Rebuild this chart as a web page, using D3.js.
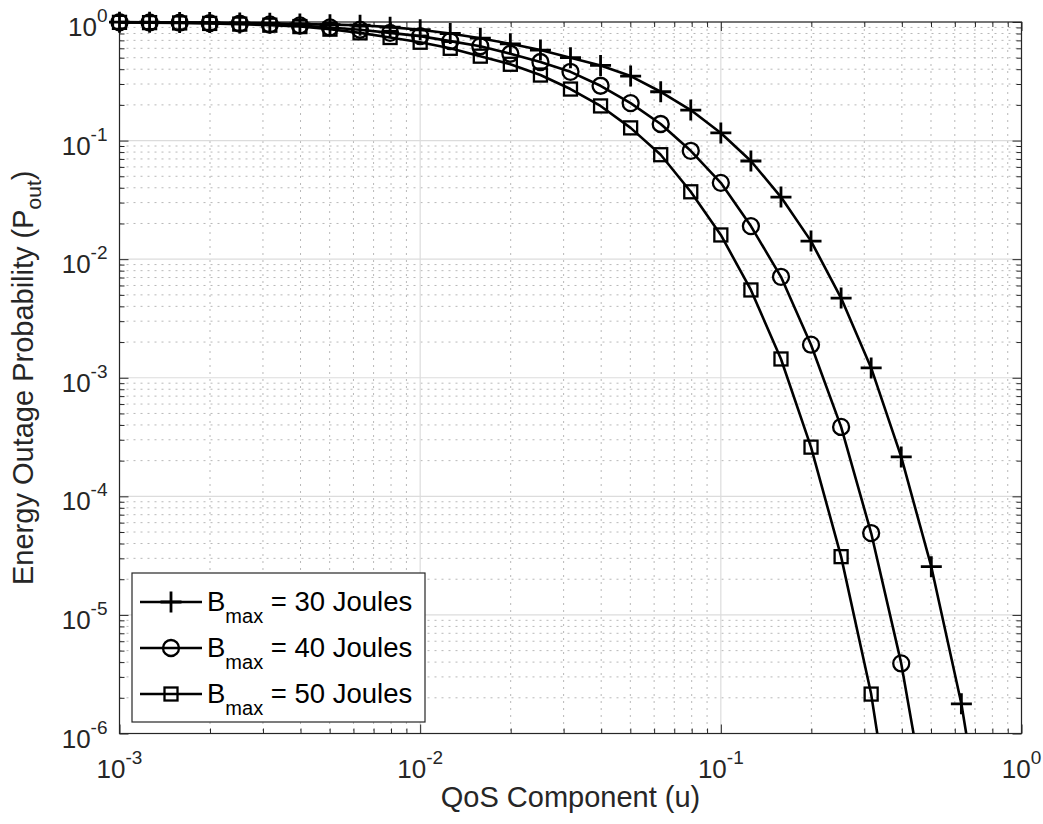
<!DOCTYPE html>
<html lang="en">
<head>
    <meta charset="UTF-8">
    <title>Energy Outage Probability</title>
    <style>
        body { margin: 0; background: #fff; overflow: hidden; }
        text { font-family: "Liberation Sans", Arial, Helvetica, sans-serif; fill: #262626; }
    </style>
</head>
<body>
    <script src="https://d3js.org/d3.v7.min.js"></script>
    <script>
        // QoS component values (u), one per marker
        const qos = [0.001, 0.001259, 0.001585, 0.001995, 0.002512, 0.003162, 0.003981, 0.005012,
                     0.00631, 0.007943, 0.01, 0.01259, 0.01585, 0.01995, 0.02512, 0.03162, 0.03981,
                     0.05012, 0.0631, 0.07943, 0.1, 0.1259, 0.1585, 0.1995, 0.2512, 0.3162, 0.3981,
                     0.5012, 0.631, 0.7943];

        // outage probability
        const pout30 = [0.997, 0.995, 0.992, 0.988, 0.982, 0.974, 0.963, 0.95, 0.94, 0.905,
                        0.86, 0.80, 0.73, 0.655, 0.58, 0.50, 0.43, 0.35, 0.258, 0.181,
                        0.116, 0.0673, 0.0334, 0.0142, 0.0047, 0.00121, 2.15e-4, 2.55e-5, 1.78e-6, 5e-8];
        const pout40 = [0.995, 0.992, 0.987, 0.98, 0.97, 0.955, 0.935, 0.90, 0.86, 0.81,
                        0.76, 0.69, 0.625, 0.54, 0.46, 0.38, 0.29, 0.207, 0.138, 0.082,
                        0.044, 0.019, 0.0071, 0.0019, 3.85e-4, 4.9e-5, 3.9e-6, 1.4e-7];
        const pout50 = [0.993, 0.988, 0.982, 0.973, 0.96, 0.94, 0.915, 0.87, 0.81, 0.74,
                        0.675, 0.60, 0.515, 0.44, 0.357, 0.272, 0.196, 0.128, 0.076, 0.037,
                        0.016, 0.0055, 0.00144, 2.6e-4, 3.1e-5, 2.15e-6, 5e-8];

        const seriesNames = ['30', '40', '50'];
        const markers = ['plus', 'circle', 'square'];

        const xTicks = [1e-3, 1e-2, 1e-1, 1e0];
        const yTicks = [1e-6, 1e-5, 1e-4, 1e-3, 1e-2, 1e-1, 1e0];

        const width = 1043, height = 824;
        const pL = 119.5, pR = 1021.5, pT = 22, pB = 733.5;
        const axisColor = '#262626';

        const svg = d3.select('body').append('svg')
            .attr('width', width)
            .attr('height', height);

        const x = d3.scaleLog().domain([1e-3, 1]).range([pL, pR]);
        const y = d3.scaleLog().domain([1e-6, 1]).range([pB, pT]);

        // minor values 2..9 in each decade
        function minors(dom) {
            const out = [];
            for (let e = Math.log10(dom[0]); e < Math.log10(dom[1]); e++) {
                for (let m = 2; m <= 9; m++) out.push(m * Math.pow(10, e));
            }
            return out;
        }
        const xMinor = minors(x.domain());
        const yMinor = minors(y.domain());

        // grid
        const grid = svg.append('g');
        grid.selectAll('.xmin').data(xMinor).enter().append('line')
            .attr('x1', d => x(d)).attr('x2', d => x(d))
            .attr('y1', pT).attr('y2', pB)
            .attr('stroke', '#b8b8b8').attr('stroke-width', 1).attr('stroke-dasharray', '2,5');
        grid.selectAll('.ymin').data(yMinor).enter().append('line')
            .attr('x1', pL).attr('x2', pR)
            .attr('y1', d => y(d)).attr('y2', d => y(d))
            .attr('stroke', '#b8b8b8').attr('stroke-width', 1).attr('stroke-dasharray', '2,5');
        grid.selectAll('.xmaj').data(xTicks).enter().append('line')
            .attr('x1', d => x(d)).attr('x2', d => x(d))
            .attr('y1', pT).attr('y2', pB)
            .attr('stroke', '#dcdcdc').attr('stroke-width', 1.2);
        grid.selectAll('.ymaj').data(yTicks).enter().append('line')
            .attr('x1', pL).attr('x2', pR)
            .attr('y1', d => y(d)).attr('y2', d => y(d))
            .attr('stroke', '#dcdcdc').attr('stroke-width', 1.2);

        // axes with inward ticks on all four sides
        function addAxis(axisFn, scale, values, size, tx, ty) {
            const g = svg.append('g')
                .attr('transform', `translate(${tx},${ty})`)
                .call(axisFn(scale).tickValues(values).tickSize(size).tickSizeOuter(0).tickFormat(() => ''));
            g.select('.domain').remove();
            g.selectAll('line').attr('stroke', axisColor).attr('stroke-width', 1);
        }
        addAxis(d3.axisBottom, x, xTicks, -9, 0, pB);
        addAxis(d3.axisBottom, x, xMinor, -5, 0, pB);
        addAxis(d3.axisTop, x, xTicks, -9, 0, pT);
        addAxis(d3.axisTop, x, xMinor, -5, 0, pT);
        addAxis(d3.axisLeft, y, yTicks, -9, pL, 0);
        addAxis(d3.axisLeft, y, yMinor, -5, pL, 0);
        addAxis(d3.axisRight, y, yTicks, -9, pR, 0);
        addAxis(d3.axisRight, y, yMinor, -5, pR, 0);

        svg.append('rect')
            .attr('x', pL).attr('y', pT)
            .attr('width', pR - pL).attr('height', pB - pT)
            .attr('fill', 'none').attr('stroke', axisColor).attr('stroke-width', 1.2);

        // tick labels as 10^n
        const exp = d => Math.round(Math.log10(d));
        svg.selectAll('.xlab').data(xTicks).enter().append('text')
            .attr('x', d => x(d)).attr('y', pB + 44)
            .attr('text-anchor', 'middle')
            .each(function(d) {
                const t = d3.select(this);
                t.append('tspan').attr('font-size', 26).text('10');
                t.append('tspan').attr('font-size', 19).attr('dy', -14).text(exp(d));
            });
        svg.selectAll('.ylab').data(yTicks).enter().append('text')
            .attr('x', pL - 12).attr('y', d => y(d) + 14)
            .attr('text-anchor', 'end')
            .each(function(d) {
                const t = d3.select(this);
                t.append('tspan').attr('font-size', 26).text('10');
                t.append('tspan').attr('font-size', 19).attr('dy', -14).text(exp(d));
            });

        // axis titles
        svg.append('text')
            .attr('x', (pL + pR) / 2).attr('y', pB + 73)
            .attr('text-anchor', 'middle').attr('font-size', 29)
            .text('QoS Component (u)');

        const yl = svg.append('text')
            .attr('transform', `translate(33,${(pT + pB) / 2}) rotate(-90)`)
            .attr('text-anchor', 'middle').attr('font-size', 29);
        yl.append('tspan').text('Energy Outage Probability (P');
        yl.append('tspan').attr('font-size', 21).attr('dy', 8).text('out');
        yl.append('tspan').attr('dy', -8).text(')');

        // clip lines to the plot box (open at the top so lines at 1 keep full width)
        svg.append('clipPath').attr('id', 'clip')
            .append('rect').attr('x', pL).attr('y', 0)
            .attr('width', pR - pL).attr('height', pB);

        const series = [pout30, pout40, pout50];
        const line = d3.line()
            .defined(d => d[1] != null)
            .x(d => x(d[0])).y(d => y(d[1]));

        const plot = svg.append('g');
        series.forEach((vals, i) => {
            const pts = vals.map((v, k) => [qos[k], v]);
            plot.append('path')
                .attr('d', line(pts))
                .attr('clip-path', 'url(#clip)')
                .attr('fill', 'none').attr('stroke', '#000').attr('stroke-width', 2.6)
                .attr('stroke-linejoin', 'round');
            const inside = pts.filter(p => p[1] >= 1e-6);
            plot.selectAll('.m' + i).data(inside).enter().append('g')
                .attr('transform', p => `translate(${x(p[0])},${y(p[1])})`)
                .each(function() { drawMarker(d3.select(this), markers[i]); });
        });

        function drawMarker(g, kind) {
            if (kind === 'plus') {
                g.append('path').attr('d', 'M-10.5,0H10.5M0,-10.5V10.5')
                    .attr('stroke', '#000').attr('stroke-width', 2.8).attr('fill', 'none');
            } else if (kind === 'circle') {
                g.append('circle').attr('r', 8)
                    .attr('stroke', '#000').attr('stroke-width', 2.3).attr('fill', 'none');
            } else {
                g.append('rect').attr('x', -6.5).attr('y', -6.5).attr('width', 13).attr('height', 13)
                    .attr('stroke', '#000').attr('stroke-width', 2.3).attr('fill', 'none');
            }
        }

        // legend
        const lg = svg.append('g');
        lg.append('rect')
            .attr('x', 132).attr('y', 573).attr('width', 293).attr('height', 149)
            .attr('fill', '#fff').attr('stroke', axisColor).attr('stroke-width', 1.2);
        seriesNames.forEach((name, i) => {
            const cy = 602 + i * 46;
            lg.append('line').attr('x1', 140).attr('x2', 202).attr('y1', cy).attr('y2', cy)
                .attr('stroke', '#000').attr('stroke-width', 2.6);
            drawMarker(lg.append('g').attr('transform', `translate(171,${cy})`), markers[i]);
            const t = lg.append('text').attr('x', 207).attr('y', cy + 9).attr('font-size', 27.5)
                .style('fill', '#000');
            t.append('tspan').text('B');
            t.append('tspan').attr('font-size', 20).attr('dy', 12).text('max');
            t.append('tspan').attr('dy', -12).text(' = ' + name + ' Joules');
        });
    </script>
</body>
</html>
